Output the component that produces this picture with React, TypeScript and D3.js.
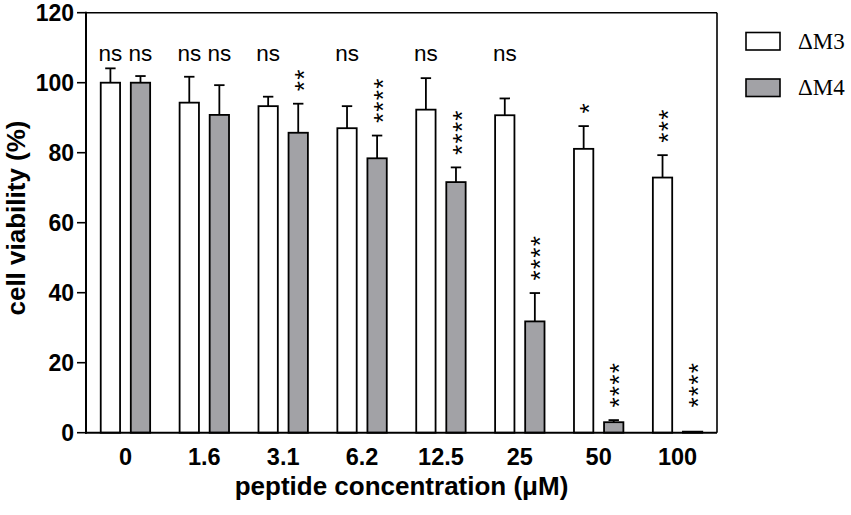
import React from "react";
import * as d3 from "d3";

const categories = ["0", "1.6", "3.1", "6.2", "12.5", "25", "50", "100"];
const seriesNames = ["ΔM3", "ΔM4"];
const m3Mean = [100, 94.3, 93.3, 87.0, 92.3, 90.7, 81.1, 72.9];
const m3Err = [4.1, 7.4, 2.7, 6.3, 9.0, 4.8, 6.5, 6.4];
const m4Mean = [100, 90.8, 85.7, 78.4, 71.6, 31.8, 3.0, 0.3];
const m4Err = [1.9, 8.5, 8.3, 6.5, 4.2, 8.1, 0.6, 0];
const m3Sig = ["ns", "ns", "ns", "ns", "ns", "ns", "*", "***"];
const m4Sig = ["ns", "ns", "**", "****", "****", "****", "****", "****"];
const yTicks = [0, 20, 40, 60, 80, 100, 120];

const W = 851;
const H = 515;
const left = 86;
const right = 717;
const top = 12.7;
const bottom = 432.7;
const SANS = "'Liberation Sans', Arial, Helvetica, sans-serif";
const SERIF = "'Liberation Serif', 'Times New Roman', serif";
const GRAY = "#a2a2a6";
const NS_LEVEL = 106.2;
const STAR_FLOOR = 3.6;
const STAR_FS = 26;

export default function App() {
  const x = d3.scaleBand<string>().domain(categories).range([left, right]);
  const xi = d3
    .scaleBand<number>()
    .domain([0, 1])
    .range([0, x.bandwidth()])
    .paddingInner(0.357)
    .paddingOuter(0.49);
  const y = d3.scaleLinear().domain([0, 120]).range([bottom, top]);

  const series = [
    { mean: m3Mean, err: m3Err, sig: m3Sig, fill: "#ffffff" },
    { mean: m4Mean, err: m4Err, sig: m4Sig, fill: GRAY },
  ];

  const bw = xi.bandwidth();

  return (
    <div style={{ position: "absolute", left: 0, top: 0 }}>
      <svg width={W} height={H} style={{ display: "block", background: "#fff" }}>
        {/* frame top & right */}
        <line x1={left} x2={right} y1={top} y2={top} stroke="#000" strokeWidth={1.6} />
        <line x1={right} x2={right} y1={top} y2={bottom} stroke="#000" strokeWidth={1.6} />
        {/* bars */}
        {series.map((s, si) =>
          categories.map((c, i) => {
            const bx = (x(c) as number) + (xi(si) as number);
            const cx = bx + bw / 2;
            const yTop = y(s.mean[i]);
            const yErr = y(s.mean[i] + s.err[i]);
            return (
              <g key={`${si}-${i}`}>
                {s.err[i] > 0 && (
                  <g stroke="#000" strokeWidth={1.8}>
                    <line x1={cx} x2={cx} y1={yTop} y2={yErr} />
                    <line x1={cx - 5.2} x2={cx + 5.2} y1={yErr} y2={yErr} />
                  </g>
                )}
                <rect
                  x={bx}
                  y={yTop}
                  width={bw}
                  height={bottom - yTop}
                  fill={s.fill}
                  stroke="#000"
                  strokeWidth={1.8}
                />
              </g>
            );
          })
        )}
        {/* significance */}
        {series.map((s, si) =>
          categories.map((c, i) => {
            const cx = (x(c) as number) + (xi(si) as number) + bw / 2;
            const lab = s.sig[i];
            if (lab === "ns") {
              return (
                <text
                  key={`sig-${si}-${i}`}
                  x={cx}
                  y={y(NS_LEVEL)}
                  textAnchor="middle"
                  fontFamily={SANS}
                  fontSize={22.5}
                >
                  ns
                </text>
              );
            }
            const base = Math.max(s.mean[i] + s.err[i], STAR_FLOOR);
            const startY = y(base) - 12.5;
            return (
              <text
                key={`sig-${si}-${i}`}
                transform={`translate(${cx + STAR_FS * 0.56},${startY}) rotate(-90)`}
                fontFamily={SANS}
                fontSize={STAR_FS}
                letterSpacing={1.3}
              >
                {lab}
              </text>
            );
          })
        )}
        {/* y axis */}
        <line x1={left} x2={left} y1={top - 1} y2={bottom + 1} stroke="#000" strokeWidth={2} />
        <line x1={left - 1} x2={right} y1={bottom} y2={bottom} stroke="#000" strokeWidth={2} />
        {yTicks.map((t) => (
          <g key={t}>
            <line x1={left - 9} x2={left} y1={y(t)} y2={y(t)} stroke="#000" strokeWidth={1.6} />
            <text
              x={left - 12}
              y={y(t) + 8}
              textAnchor="end"
              fontFamily={SANS}
              fontWeight="bold"
              fontSize={23}
            >
              {t}
            </text>
          </g>
        ))}
        {/* x labels */}
        {categories.map((c) => (
          <text
            key={c}
            x={(x(c) as number) + x.bandwidth() / 2}
            y={465}
            textAnchor="middle"
            fontFamily={SANS}
            fontWeight="bold"
            fontSize={23.5}
          >
            {c}
          </text>
        ))}
        <text
          x={(left + right) / 2}
          y={495}
          textAnchor="middle"
          fontFamily={SANS}
          fontWeight="bold"
          fontSize={26}
        >
          peptide concentration (μM)
        </text>
        <text
          transform={`translate(25,218) rotate(-90)`}
          textAnchor="middle"
          fontFamily={SANS}
          fontWeight="bold"
          fontSize={26}
        >
          cell viability (%)
        </text>
        {/* legend */}
        {seriesNames.map((n, i) => (
          <g key={n}>
            <rect
              x={746}
              y={32.5 + i * 46.5}
              width={34}
              height={17.5}
              fill={series[i].fill}
              stroke="#000"
              strokeWidth={1.6}
            />
            <text x={798} y={48.5 + i * 46.5} fontFamily={SERIF} fontSize={23}>
              {n}
            </text>
          </g>
        ))}
      </svg>
    </div>
  );
}
